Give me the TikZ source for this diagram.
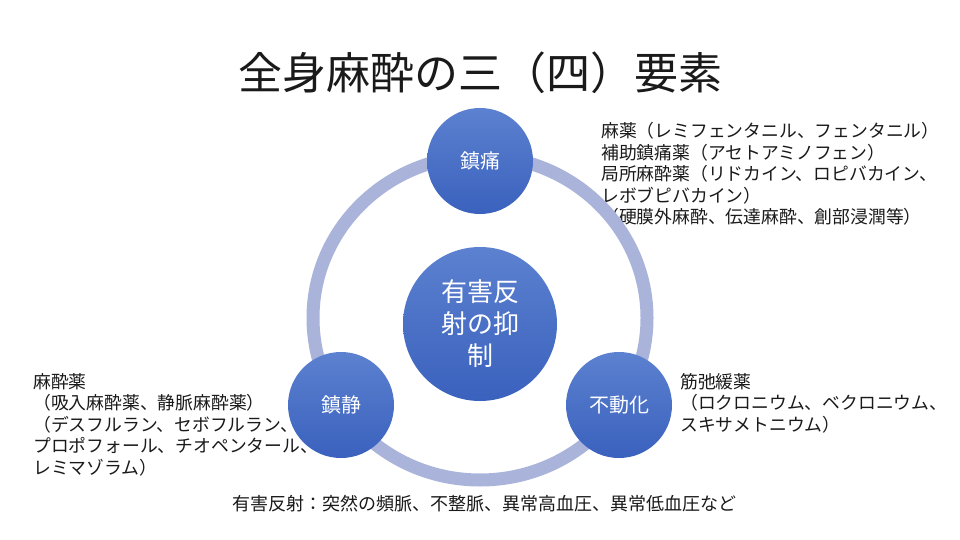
\documentclass[tikz,border=0pt]{standalone}
\usepackage{fontspec}
\setmainfont{Noto Sans CJK JP}
\definecolor{ctop}{HTML}{5C81D0}
\definecolor{cbot}{HTML}{3A61BD}
\definecolor{ringc}{HTML}{AAB4DB}
\definecolor{txt}{HTML}{1A1A1A}
\tikzset{
  bubble/.style={circle, draw=none, top color=ctop, bottom color=cbot, text=white, inner sep=0pt},
  small/.style={bubble, minimum size=106pt, font=\fontsize{20}{24}\selectfont},
  big/.style={bubble, minimum size=154pt, align=center, font=\fontsize{26}{32}\selectfont},
  note/.style={anchor=north west, inner sep=0pt, align=left, text=txt, font=\fontsize{17.8}{21.6}\selectfont},
}
\begin{document}
\begin{tikzpicture}[x=1pt,y=-1pt]
\useasboundingbox[fill=white] (0,0) rectangle (960,540);
\node[text=txt, font=\fontsize{44}{50}\selectfont, inner sep=0pt] (title) at (480,73) {全身麻酔の三（四）要素};
% notes (under circles)
\node[note] (tr) at (601,122) {麻薬（レミフェンタニル、フェンタニル）\\補助鎮痛薬（アセトアミノフェン）\\局所麻酔薬（リドカイン、ロピバカイン、\\レボブピバカイン）\\（硬膜外麻酔、伝達麻酔、創部浸潤等）};
\node[note] (tl) at (33,373) {麻酔薬\\（吸入麻酔薬、静脈麻酔薬）\\（デスフルラン、セボフルラン、\\プロポフォール、チオペンタール、\\レミマゾラム）};
\node[note] (rr) at (680,373) {筋弛緩薬\\（ロクロニウム、ベクロニウム、\\スキサメトニウム）};
\node[note, anchor=west, font=\fontsize{18}{22}\selectfont] (bot) at (232,504) {有害反射：突然の頻脈、不整脈、異常高血圧、異常低血圧など};
% ring
\coordinate (rc) at (480,318);
\draw[ringc, line width=13pt] (rc) ellipse [x radius=167pt, y radius=162pt];
% circles
\node[big] (c) at (480,324) {有害反\\射の抑\\制};
\node[small] (t) at (480,161) {鎮痛};
\node[small] (l) at (341,405) {鎮静};
\node[small] (r) at (619,405) {不動化};
\end{tikzpicture}
\end{document}
